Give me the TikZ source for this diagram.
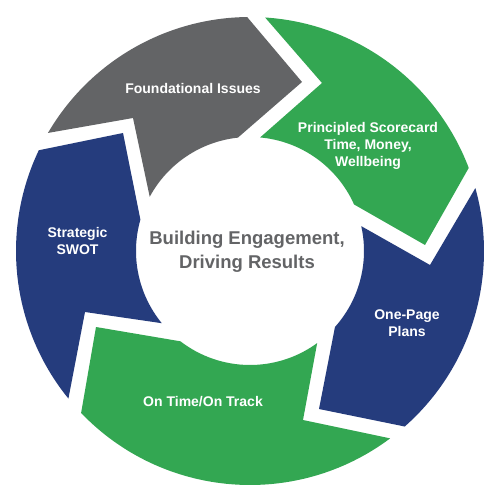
\documentclass[tikz,border=0pt]{standalone}
\usepackage{fontspec}
\setmainfont{Liberation Sans}
\definecolor{segGray}{RGB}{99,100,102}
\definecolor{segGreen}{RGB}{51,167,82}
\definecolor{segNavy}{RGB}{37,60,125}
\tikzset{
  lbl/.style={text=white, align=center, inner sep=0pt, font=\fontsize{14}{17}\selectfont\bfseries},
  ctr/.style={text=segGray, align=center, inner sep=0pt, font=\fontsize{18.5}{24}\selectfont\bfseries}
}
\begin{document}
\begin{tikzpicture}[x=1pt,y=1pt]
\useasboundingbox[fill=white] (-250,-249) rectangle (250,251);
% Foundational Issues (gray)
\fill[segGray] (149.7:234) arc[start angle=149.7, end angle=90.7, radius=234]
  -- (52,169) -- (96.1:114) arc[start angle=96.1, end angle=151.6, radius=114]
  -- (-117,133) -- cycle;
% Principled Scorecard (green)
\fill[segGreen] (86.3:234) arc[start angle=86.3, end angle=20.8, radius=234]
  -- (175,6) -- (24.1:114) arc[start angle=24.1, end angle=84.9, radius=114]
  -- (72,168) -- cycle;
% One-Page Plans (navy)
\fill[segNavy] (15.6:234) arc[start angle=15.6, end angle=-48.6, radius=234]
  -- (69,-158) -- (-41.8:114) arc[start angle=-41.8, end angle=12.6, radius=114]
  -- (180,-14) -- cycle;
% On Time/On Track (green)
\fill[segGreen] (-53.2:234) arc[start angle=-53.2, end angle=-136.2, radius=234]
  -- (-154,-76) -- (-127.6:114) arc[start angle=-127.6, end angle=-53.9, radius=114]
  -- (53,-169) -- cycle;
% Strategic SWOT (navy)
\fill[segNavy] (219.1:234) arc[start angle=219.1, end angle=154.5, radius=234]
  -- (-127,118) -- (164.0:114) arc[start angle=164.0, end angle=219.3, radius=114]
  -- (-165,-61) -- cycle;
% labels
\node[lbl] (found) at (-57,162) {Foundational Issues};
\node[lbl] (princ) at (118,105) {Principled Scorecard\\Time, Money,\\Wellbeing};
\node[lbl] (swot) at (-172.5,10) {Strategic\\SWOT};
\node[lbl] (plans) at (157,-72) {One-Page\\Plans};
\node[lbl] (track) at (-47,-151) {On Time/On Track};
\node[ctr] (center) at (-3,-1) {Building Engagement,\\Driving Results};
\end{tikzpicture}
\end{document}
